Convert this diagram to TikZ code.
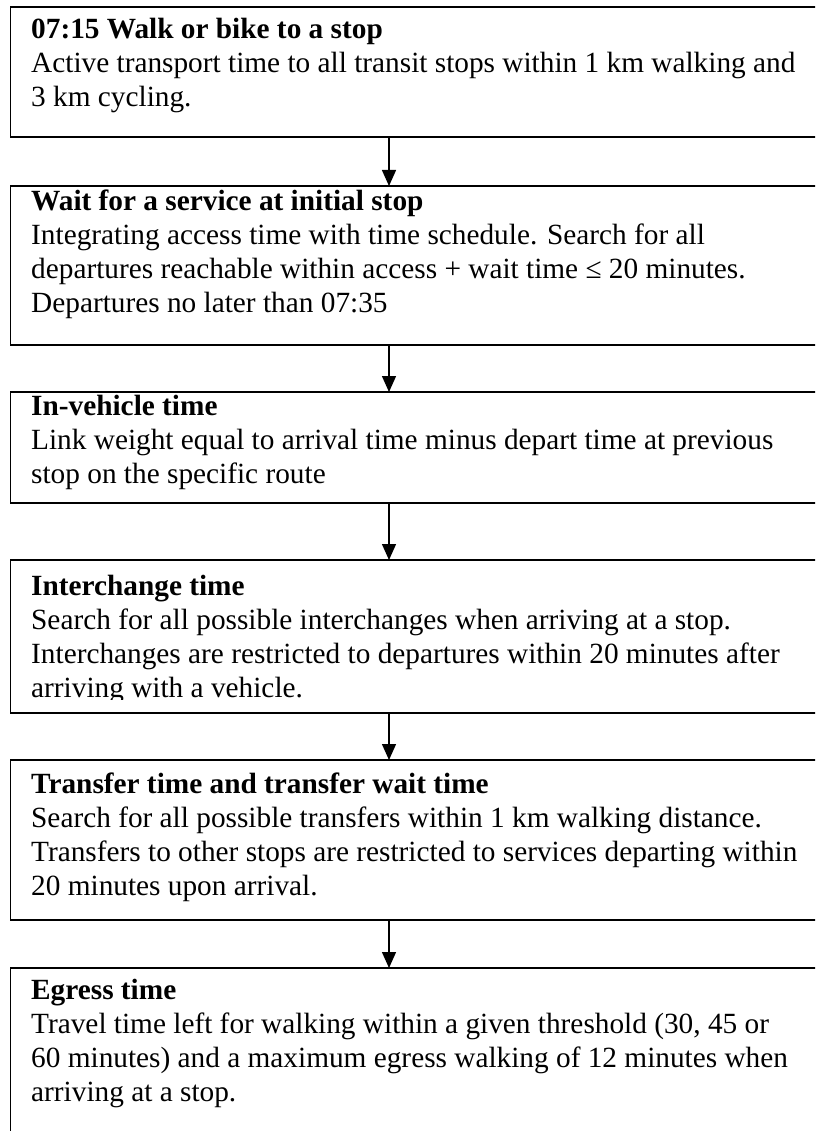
\documentclass[tikz,border=0pt]{standalone}
\usepackage{fontspec}
\setmainfont{Liberation Serif}
\usetikzlibrary{arrows.meta}
\begin{document}
\begin{tikzpicture}[x=1pt,y=-1pt,
  stepbox/.style={draw, line width=1.7pt, rectangle, inner sep=0pt, outer sep=0pt,
                  anchor=north west, minimum width=840pt},
  steptext/.style={anchor=north west, align=left, inner sep=0pt,
                   font=\fontsize{29.3}{34}\selectfont, execute at begin node=\strut},
  flow/.style={line width=1.4pt, -{Triangle[width=14pt,length=16pt]}}]
\useasboundingbox (0,0) rectangle (815,1131);
\clip (0,0) rectangle (815,1131);

% the six step boxes, running off the right edge
\node[stepbox, minimum height=130pt] (b1) at (10.5,7) {};
\node[stepbox, minimum height=159pt] (b2) at (10.5,186) {};
\node[stepbox, minimum height=111pt] (b3) at (10.5,392) {};
\node[stepbox, minimum height=153pt] (b4) at (10.5,560) {};
\node[stepbox, minimum height=160pt] (b5) at (10.5,760) {};
\node[stepbox, minimum height=180pt] (b6) at (10.5,968) {};

% step texts (top of the first strut given)
\node[steptext] (t1) at (31,17.9) {\textbf{07:15 Walk or bike to a stop}\\
  Active transport time to all transit stops within 1 km walking and\\
  3 km cycling.};
\node[steptext] (t2) at (31,189.2) {\textbf{Wait for a service at initial stop}\\
  Integrating access time with time schedule. Search for all\\
  departures reachable within access + wait time ≤ 20 minutes.\\
  Departures no later than 07:35};
\node[steptext] (t3) at (31,395.2) {\textbf{In-vehicle time}\\
  Link weight equal to arrival time minus depart time at previous\\
  stop on the specific route};
% the last line of this text runs past the text area and is cut off
\begin{scope}
  \clip (10,560) rectangle (815,699);
  \node[steptext] (t4) at (31,575.2) {\textbf{Interchange time}\\
    Search for all possible interchanges when arriving at a stop.\\
    Interchanges are restricted to departures within 20 minutes after\\
    arriving with a vehicle.};
\end{scope}
\node[steptext] (t5) at (31,772.2) {\textbf{Transfer time and transfer wait time}\\
  Search for all possible transfers within 1 km walking distance.\\
  Transfers to other stops are restricted to services departing within\\
  20 minutes upon arrival.};
\node[steptext] (t6) at (31,979.2) {\textbf{Egress time}\\
  Travel time left for walking within a given threshold (30, 45 or\\
  60 minutes) and a maximum egress walking of 12 minutes when\\
  arriving at a stop.};

% connectors
\coordinate (ax) at (389,0);
\draw[flow] (ax |- b1.south) -- (ax |- b2.north);
\draw[flow] (ax |- b2.south) -- (ax |- b3.north);
\draw[flow] (ax |- b3.south) -- (ax |- b4.north);
\draw[flow] (ax |- b4.south) -- (ax |- b5.north);
\draw[flow] (ax |- b5.south) -- (ax |- b6.north);
\end{tikzpicture}
\end{document}
